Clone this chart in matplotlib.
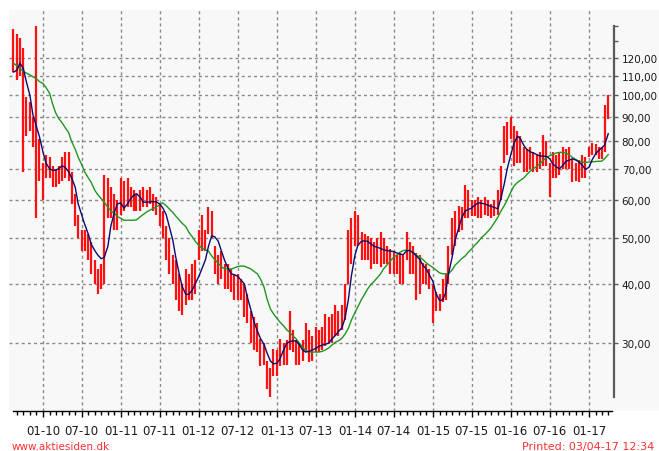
import matplotlib
matplotlib.use('Agg')
import matplotlib.pyplot as plt
import matplotlib.dates as mdates
from matplotlib.patches import Rectangle
from matplotlib.ticker import FixedLocator, FuncFormatter, NullLocator
import pandas as pd

# half-monthly price bars (1st and 15th of each month)
dates = pd.date_range('2009-08-15', '2017-04-01', freq='SMS')

highs = [138, 135, 132, 126, 99, 97, 90, 140, 81,
         72, 75, 74, 71, 70, 71, 74, 76, 76, 69, 62, 56,
         52, 52, 51, 49, 45, 43, 44, 68,
         67, 64, 62, 60, 67, 66, 67, 64, 63, 62, 63, 64,
         63, 64, 62, 61, 59, 57, 53, 50, 46, 45, 42, 40,
         43, 42, 44, 45, 52, 56, 52, 58, 57, 48, 46, 47,
         44, 44, 43, 42, 42, 41, 40, 38, 35, 34, 33, 30.6,
         30, 27.5, 26.5, 29.2, 29, 30.6, 30, 30.5, 35, 32, 30.5, 30,
         30.5, 33, 32, 31, 32.5, 32, 32.5, 34.5, 34, 34.5, 36, 35,
         36, 40, 52, 55, 56.9, 56, 51.5, 51, 50.5, 50, 49, 50,
         51.5, 50, 48, 47.3, 47, 46, 46.5, 46, 51.5, 49, 48, 46.5,
         46, 44.3, 44, 43, 40, 38.4, 38, 41, 42, 48, 55, 57,
         58.4, 58, 64.6, 63, 60, 60, 61, 60, 61, 60, 59, 60,
         63, 71, 86, 88, 90, 86, 84, 82, 78, 77, 78, 76,
         75, 76, 82.5, 80, 72, 76, 75, 76, 78, 77, 78, 73.5,
         72, 73, 74.8, 74, 78, 79.5, 79, 78, 78, 95.5, 100]

lows = [112, 108, 110, 69, 82, 84, 78, 55, 66,
        60, 67, 67, 64, 64, 65, 66, 67, 66, 59, 53, 50,
        47, 47, 45, 42, 40, 38, 39, 40,
        55, 55, 52, 52, 56, 57, 58, 58, 57, 57, 57, 58,
        58, 59, 57, 56, 53, 50, 45, 42, 40, 37, 35, 34.3,
        36, 37, 37, 38, 45, 47, 47, 51, 50, 42, 40, 41,
        39, 39, 38.5, 37, 37, 37, 34, 33, 30, 29, 28.7, 26.8,
        27, 24, 23.1, 25.5, 25.5, 26.8, 27, 27, 29, 28.7, 27, 27,
        27.5, 28.7, 27.3, 27.5, 28.7, 28.7, 29, 29.6, 30, 30, 31, 31,
        32, 33.6, 40, 44, 48, 48, 45, 45, 45, 43, 44, 44,
        43.5, 44, 44, 41.9, 42, 42, 40, 40, 45, 42, 42, 37,
        38, 40, 40, 39, 33, 35, 35, 36.6, 37, 40, 46, 48,
        51.5, 52, 55, 55, 55.6, 55.6, 55, 55, 56, 55.6, 55, 55.5,
        56, 60, 72, 75, 81, 71, 72, 72, 69, 69, 70, 69,
        69, 70, 71, 71, 61, 67, 67, 68, 70, 70, 70, 65.5,
        66, 65.5, 67, 67, 74, 75, 75, 73.5, 73.5, 76, 89]

# short moving average (blue)
ma_short = [112, 113, 117, 114, 107, 100, 91, 86, 82,
            76, 72, 70, 69.5, 69.5, 70, 71, 70.5, 69, 67, 64, 59,
            56, 53.5, 51, 48.5, 47, 46, 45.2, 45.5,
            48, 53, 56.5, 59, 59.3, 57.8, 59, 60.5, 61.5, 62, 61, 59.5,
            59.5, 59.6, 59.6, 59.6, 59, 58, 56, 53, 49.5, 45.5, 42, 39.5,
            38, 38, 38.8, 40, 41.5, 43, 45, 48, 50.5, 50.3, 49.2, 47,
            44.8, 43.3, 42, 41.8, 41.5, 40.8, 40, 37.5, 35.2, 33.3, 31.8, 30.7,
            29.8, 28.6, 27.5, 27.1, 27.2, 27.8, 29, 29.9, 30.2, 30.3, 30.3, 29.8,
            29, 28.7, 28.8, 29, 29.2, 29.5, 29.7, 29.8, 30, 30.6, 31.1, 31.7,
            32.3, 33.8, 37, 41.5, 46, 48.3, 49.2, 49.3, 49.2, 48.6, 48, 47.8,
            47.5, 47.2, 47, 46.9, 46.8, 46.5, 46.2, 46.1, 47, 47, 46.5, 45.8,
            45, 43.8, 43, 41.8, 40.5, 38.2, 36.9, 37, 38.2, 42, 45.5, 49.5,
            52.3, 55, 57, 57.4, 57.8, 58.6, 59.3, 59.2, 59, 58.6, 58.3, 58,
            57.6, 60.5, 65, 70, 75, 79, 82, 81, 78.5, 77, 76, 75.6,
            75, 74.5, 74.4, 74.4, 73.5, 71.7, 70.6, 70, 71.2, 72.6, 73, 73.5,
            73, 72.3, 71.2, 69.8, 70.5, 73, 75.3, 76.5, 77.5, 78.5, 83]

# long moving average (green)
ma_long = [117, 115.5, 114, 112.5, 111.5, 110.5, 109.5, 108.5, 107,
           106, 104, 101, 96, 92, 89.5, 87.5, 85.5, 83.5, 80, 77, 74,
           71.5, 69, 67, 65.5, 63, 61.7, 60.5, 59.5,
           58, 57, 56.4, 55.5, 55, 54.5, 54.5, 54.5, 54.5, 54.6, 55.4, 56,
           56.7, 57.2, 57.7, 58.1, 58.7, 59.3, 58.5, 57.6, 56.6, 55.6, 54.6, 53.7,
           52.8, 51.4, 50.3, 49.2, 48.2, 47.6, 47.2, 46.9, 45.8, 45, 44.2, 43.5,
           43, 43, 43, 43.2, 43.5, 43.6, 43.6, 43.3, 43, 42.5, 42, 41,
           39.4, 37.2, 35.4, 34.6, 33.8, 33.2, 32.6, 32, 31.6, 31.1, 30.6, 30,
           29.4, 28.9, 28.7, 28.7, 28.7, 28.7, 28.8, 29, 29.3, 29.7, 30.1, 30.3,
           30.7, 31.3, 32.2, 33.5, 34.8, 35.8, 37.1, 38, 39, 39.8, 40.5, 41.2,
           42, 43, 43.9, 44.7, 45.5, 46, 46.7, 47, 47.2, 47, 46.6, 46,
           45.5, 45, 44.3, 43.8, 43.3, 42.8, 42.2, 42, 42, 42, 42.8, 43.8,
           44.5, 45.2, 45.8, 46.6, 47.4, 48.2, 49.1, 50, 50.8, 51.6, 52.6, 53.8,
           55.3, 56.9, 58.5, 60.2, 62.5, 64.3, 65.5, 66.2, 66.9, 68, 69.2, 70,
           70.8, 71.6, 73, 73.9, 74.6, 75, 75.6, 75.8, 75.8, 75.6, 74.8, 74,
           73.2, 72.6, 72.3, 72.2, 72.3, 72.4, 72.5, 72.6, 72.6, 73.5, 75]

price_grid = [30, 40, 50, 60, 70, 80, 90, 100, 110, 120]
price_ticks = price_grid + [130, 140]

W, H = 659, 452


def fx(px):
    return px / W


def fy(py):
    return 1 - py / H


fig = plt.figure(figsize=(W / 100, H / 100), dpi=100)
# light grey panel behind the plot and the price labels
fig.patches.append(Rectangle((fx(9), fy(412)), 1 - fx(9), fy(11) - fy(412),
                             transform=fig.transFigure, facecolor='#f8f8f8',
                             edgecolor='none', zorder=-5))

ax = fig.add_axes([fx(9), fy(412), fx(614) - fx(9), fy(11) - fy(412)])
ax.set_facecolor('none')
ax.set_yscale('log')
ax.set_ylim(21.55, 151.5)
t_left = pd.Timestamp('2009-07-26')
t_right = pd.Timestamp('2017-04-28')
x_left = mdates.date2num(t_left)
x_right = mdates.date2num(t_right)
ax.set_xlim(x_left, x_right)
axis_start = mdates.date2num(pd.Timestamp('2009-08-14'))
axis_end = mdates.date2num(pd.Timestamp('2017-04-19'))

ax.xaxis.set_major_locator(mdates.MonthLocator(bymonth=[1, 7]))
ax.xaxis.set_major_formatter(mdates.DateFormatter('%m-%y'))
months = mdates.MonthLocator().tick_values(t_left.to_pydatetime(), t_right.to_pydatetime())
ax.xaxis.set_minor_locator(FixedLocator([m for m in months if axis_start < m < axis_end]))

# dashed grid, drawn by hand so nothing leaks outside the plot
grid_style = dict(color='#8a8a8a', linestyle=(0, (2.2, 2.2)), linewidth=1.0, zorder=1)
for p in price_grid:
    ax.axhline(p, **grid_style)
for t in ax.xaxis.get_majorticklocs():
    if x_left + 5 < t < x_right:
        ax.axvline(t, **grid_style)

ax.vlines(dates, lows, highs, colors='#ff1010', linewidth=1.6, zorder=2)
ax.plot(dates, ma_long, color='#1f961f', linewidth=1.0, zorder=3)
ax.plot(dates, ma_short, color='#0c0c70', linewidth=1.0, zorder=4)

ax.yaxis.set_major_locator(FixedLocator(price_ticks))
ax.yaxis.set_minor_locator(NullLocator())
ax.yaxis.set_major_formatter(FuncFormatter(lambda v, pos: f'{v:.0f},00' if v <= 120 else ''))
ax.yaxis.tick_right()

for side in ['left', 'top']:
    ax.spines[side].set_visible(False)
ax.spines['bottom'].set_color('black')
ax.spines['bottom'].set_linewidth(1.0)
ax.spines['bottom'].set_bounds(axis_start, axis_end)
ax.spines['right'].set_color('#5a5a5a')
ax.spines['right'].set_linewidth(1.6)
ax.spines['right'].set_bounds(23.1, 140)

ax.tick_params(axis='x', which='major', length=4.5, width=1, color='black',
               pad=5, labelsize=8.5, labelcolor='#1a1a1a')
ax.tick_params(axis='x', which='minor', length=3, width=1, color='black')
ax.tick_params(axis='y', which='major', length=3, width=1, color='#5a5a5a',
               pad=2.5, labelsize=7.5, labelcolor='#1a1a1a')

fig.text(fx(12), fy(447), 'www.aktiesiden.dk', color='#ff3030', fontsize=7.5,
         ha='left', va='center')
fig.text(fx(654), fy(447), 'Printed: 03/04-17 12:34', color='#ff3030', fontsize=8,
         ha='right', va='center')

fig.savefig('out.png', dpi=100)
